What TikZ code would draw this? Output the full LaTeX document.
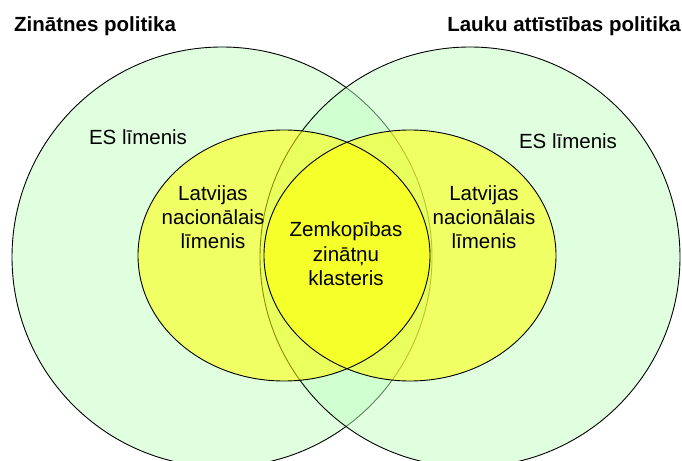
\documentclass[tikz,border=0pt]{standalone}
\usepackage{fontspec}
\setmainfont{Liberation Sans}
\definecolor{esgreen}{RGB}{192,255,192}
\definecolor{natyellow}{RGB}{255,255,0}
\tikzset{
  esarea/.style={fill=esgreen, fill opacity=0.5, draw=black, line width=0.9bp},
  natfill/.style={fill=natyellow, fill opacity=0.55, draw=none},
  natedge/.style={draw=black, line width=0.9bp},
  lbl/.style={inner sep=0pt, font=\fontsize{20.5bp}{24.6bp}\selectfont, anchor=base},
  ttl/.style={inner sep=0pt, font=\fontsize{20.5bp}{24.6bp}\selectfont\bfseries}
}
\begin{document}
\begin{tikzpicture}[x=1bp,y=-1bp]
\useasboundingbox (0,0) rectangle (682,461);
\clip (0,0) rectangle (682,461);
% EU level circles
\path[esarea] (222,257) circle[radius=210];
\path[esarea] (470,257) circle[radius=210];
% national level ellipses
\path[natfill] (284,255.5) ellipse[x radius=146, y radius=125.5];
\path[natfill] (410,255.5) ellipse[x radius=146, y radius=125.5];
\path[natedge] (284,255.5) ellipse[x radius=146, y radius=125.5];
\path[natedge] (410,255.5) ellipse[x radius=146, y radius=125.5];
% titles
\node[ttl, anchor=base west] (t1) at (14,32) {Zinātnes politika};
\node[ttl, anchor=base east] (t2) at (681,32) {Lauku attīstības politika};
% ES labels
\node[lbl] (es1) at (138,145) {ES līmenis};
\node[lbl] (es2) at (568,149) {ES līmenis};
% national labels left
\node[lbl] (l1a) at (213,201) {Latvijas};
\node[lbl] (l1b) at (213,225) {nacionālais};
\node[lbl] (l1c) at (213,249) {līmenis};
% national labels right
\node[lbl] (l2a) at (484,201) {Latvijas};
\node[lbl] (l2b) at (484,225) {nacionālais};
\node[lbl] (l2c) at (484,249) {līmenis};
% centre
\node[lbl] (c1) at (346,237) {Zemkopības};
\node[lbl] (c2) at (346,261.5) {zinātņu};
\node[lbl] (c3) at (346,286) {klasteris};
\end{tikzpicture}
\end{document}
